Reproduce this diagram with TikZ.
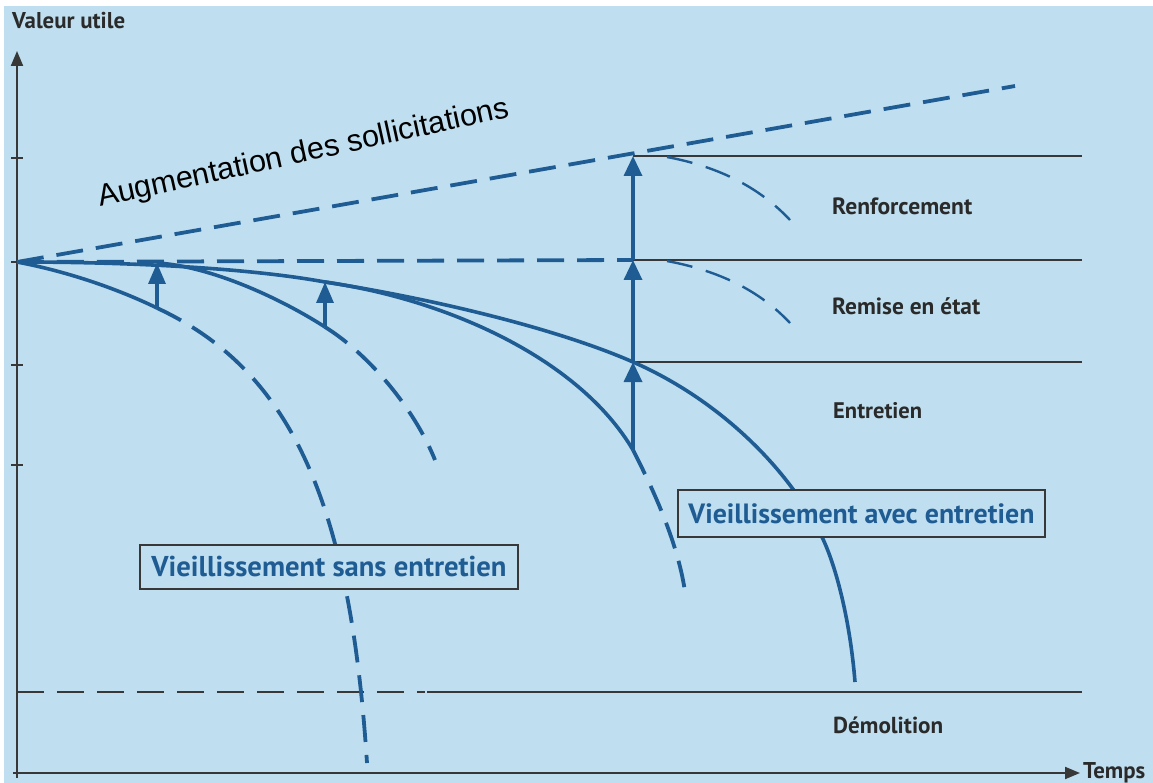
\documentclass[tikz,border=0pt]{standalone}
\usepackage{fontspec}
\usepackage{graphicx}
\setmainfont{Liberation Sans}
\newfontfamily\lblfont{PT Sans}
\usetikzlibrary{arrows.meta}
\definecolor{bg}{HTML}{BFDFF0}
\definecolor{ln}{HTML}{1E5C93}
\definecolor{gr}{HTML}{383838}
\definecolor{tx}{HTML}{2A2A2A}
\tikzset{
  axisline/.style={draw=gr, line width=2pt},
  hline/.style={draw=gr, line width=2.2pt},
  hdash/.style={draw=gr, line width=2pt, dash pattern=on 27pt off 13pt},
  bline/.style={draw=ln, line width=3.6pt},
  bdash/.style={draw=ln, line width=3.8pt, dash pattern=on 27pt off 13pt},
  tdash/.style={draw=ln, line width=2.4pt, dash pattern=on 26pt off 14pt},
  bigup/.style={draw=ln, line width=3.4pt, -{Triangle[length=20pt,width=18pt]}},
  smallup/.style={draw=ln, line width=3.4pt, -{Triangle[length=21pt,width=17pt]}},
  lbl/.style={text=tx, font=\lblfont\bfseries, inner sep=0pt, anchor=base west},
  boxlbl/.style={text=ln, font=\lblfont\bfseries, draw=gr, line width=2pt, fill=bg, inner sep=0pt},
  tick/.style={draw=gr, line width=1.6pt}
}
\begin{document}
\begin{tikzpicture}[x=1pt,y=-1pt]
\useasboundingbox (0,0) rectangle (1153,783);
\fill[white] (0,0) rectangle (1153,783);
\fill[bg] (4,6) rectangle (1153,783);

% key coordinates
\coordinate (O) at (17,262);
\coordinate (Ytop) at (17,51);
\coordinate (Ybot) at (17,778);
\coordinate (X0) at (13,773);
\coordinate (Xend) at (1080,773);
\coordinate (R1) at (633,156);
\coordinate (R2) at (633,260);
\coordinate (R3) at (633,362);
\coordinate (R4) at (633,450);
\coordinate (A1) at (157,308);
\coordinate (A1t) at (157,263);
\coordinate (B1) at (325,327);
\coordinate (B1t) at (325,282);
\coordinate (Aug) at (1015,86);

% horizontal level lines
\draw[hline] (R1) -- (1082,156);
\draw[hline] (R2) -- (1082,260);
\draw[hline] (R3) -- (1082,362);
\draw[hdash] (17,692) -- (425,692);
\draw[hline] (427,692) -- (1082,692);

% axes
\draw[axisline, -{Triangle[length=15pt,width=12pt]}] (Ybot) -- (Ytop);
\draw[axisline, -{Triangle[length=15pt,width=12pt]}] (X0) -- (Xend);
\foreach \yy in {158,262,365,465} \draw[tick] (11,\yy) -- (23,\yy);

% increase of loads
\draw[bdash] (O) -- (Aug);
\draw[bdash] (O) -- (R2);

% ageing without maintenance
\draw[bline] (O) .. controls (70,272) and (120,290) .. (A1);
\draw[bdash] (A1) .. controls (290,370) and (350,500) .. (367,763);
\draw[bline] (A1t) .. controls (210,266) and (280,298) .. (B1);
\draw[bdash] (B1) .. controls (370,355) and (415,410) .. (435,460);

% envelope with maintenance
\draw[bline] (O) .. controls (150,262) and (260,270) .. (B1t)
  .. controls (440,300) and (560,330) .. (R3)
  .. controls (720,400) and (790,470) .. (822,537)
  .. controls (836,566) and (850,620) .. (855,682);
\draw[bline] (B1t) .. controls (450,300) and (580,360) .. (R4);
\draw[bdash] (R4) .. controls (643,470) and (680,540) .. (686,600);

% decay after repair / strengthening
\draw[tdash] (667,157) .. controls (720,167) and (760,188) .. (790,220);
\draw[tdash] (667,261) .. controls (720,271) and (760,291) .. (790,323);

% intervention arrows
\draw[smallup] (A1) -- (A1t);
\draw[smallup] (B1) -- (B1t);
\draw[bigup] (R4) -- (R3);
\draw[bigup] (R3) -- (R2);
\draw[bigup] (R2) -- (R1);

% boxes
\node[boxlbl, minimum width=378pt, minimum height=44pt] (sans) at (329,567) {\resizebox{355pt}{!}{Vieillissement sans entretien}};
\node[boxlbl, minimum width=367pt, minimum height=47pt] (avec) at (861.5,513.5) {\resizebox{346pt}{!}{Vieillissement avec entretien}};

% labels
\node[lbl] (valeur) at (12,29) {\resizebox{113pt}{!}{Valeur utile}};
\node[lbl] (temps) at (1083,778) {\resizebox{62pt}{!}{Temps}};
\node[lbl] (renf) at (832,215) {\resizebox{140pt}{!}{Renforcement}};
\node[lbl] (remise) at (832,315) {\resizebox{148pt}{!}{Remise en état}};
\node[lbl] (entr) at (833,418) {\resizebox{89pt}{!}{Entretien}};
\node[lbl] (demo) at (833,733) {\resizebox{110pt}{!}{Démolition}};
\node[anchor=base west, rotate=12.4, inner sep=0pt, text=black, font=\fontsize{30.6}{34}\selectfont] (aug) at (100,207) {Augmentation des sollicitations};
\end{tikzpicture}
\end{document}
